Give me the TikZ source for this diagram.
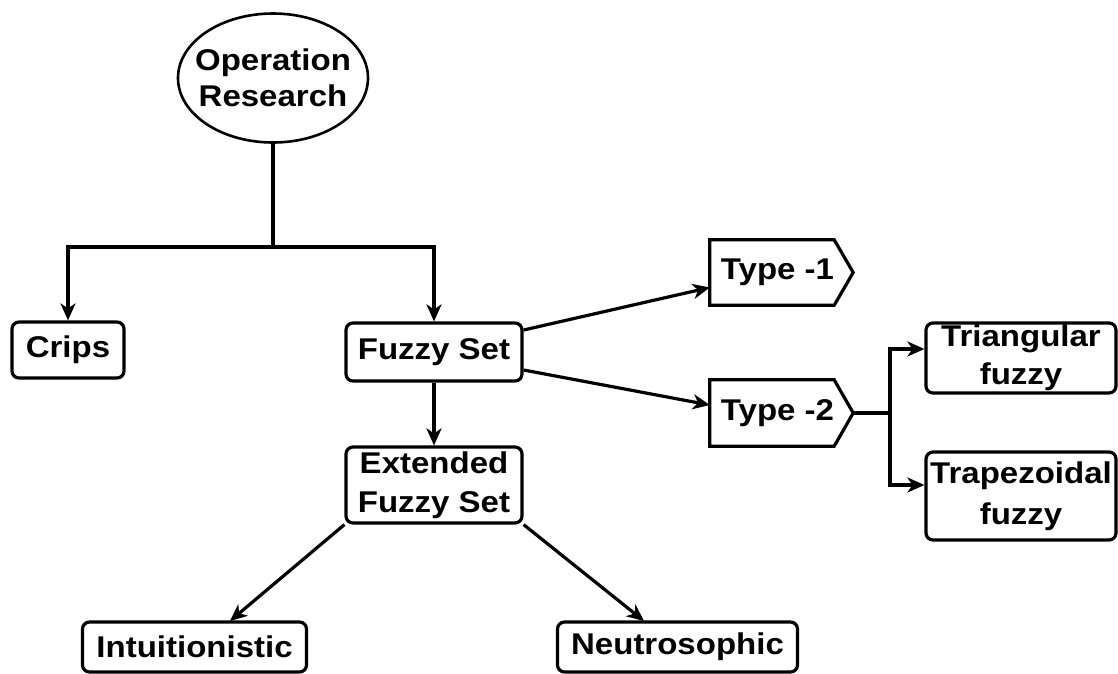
\documentclass[tikz,border=0pt]{standalone}
\usepackage{fontspec}
\setmainfont[FakeStretch=1.1]{Liberation Sans}
\usetikzlibrary{arrows.meta,shapes.geometric}
\begin{document}
\begin{tikzpicture}[x=1pt,y=-1pt,
  every node/.style={font=\bfseries\fontsize{30}{37}\selectfont, inner sep=0pt, align=center},
  box/.style={draw, line width=3.2pt, rounded corners=7pt},
  conn/.style={line width=3.2pt},
  arr/.style={line width=3.2pt, -{Stealth[length=17pt,width=15pt,inset=5pt]}},
]
\path[use as bounding box] (0,0) rectangle (1118,673);
\clip (0,0) rectangle (1118,673);
\fill[white] (0,0) rectangle (1118,673);
% nodes
\node[ellipse, draw, line width=2.6pt, inner xsep=-14pt, inner ysep=0pt, minimum width=190pt, minimum height=129pt] (or) at (273,78) {Operation\\[-1pt]Research};
\node[box, minimum width=112pt, minimum height=56pt] (cr) at (68,350) {Crips};
\node[box, minimum width=176pt, minimum height=58pt] (fz) at (434,352) {Fuzzy Set};
\node[box, minimum width=176pt, minimum height=76pt] (ex) at (434,485) {Extended\\[2pt]Fuzzy Set};
\node[minimum width=143pt, minimum height=65pt] (t1) at (781.5,272.5) {\hspace*{-8pt}Type -1};
\node[minimum width=143pt, minimum height=66pt] (t2) at (781.5,413) {\hspace*{-8pt}Type -2};
\draw[line width=3.2pt, line join=miter] (t1.north west) -- ([xshift=-19pt]t1.north east) -- (t1.east) -- ([xshift=-19pt]t1.south east) -- (t1.south west) -- cycle;
\draw[line width=3.2pt, line join=miter] (t2.north west) -- ([xshift=-19pt]t2.north east) -- (t2.east) -- ([xshift=-19pt]t2.south east) -- (t2.south west) -- cycle;
\node[box, minimum width=190pt, minimum height=70pt] (tri) at (1021,358) {Triangular\\[1pt]fuzzy};
\node[box, minimum width=190pt, minimum height=88pt] (trap) at (1021,496) {Trapezoidal\\[4pt]fuzzy};
\node[box, minimum width=224pt, minimum height=50pt] (in) at (194.5,647) {Intuitionistic};
\node[box, minimum width=240pt, minimum height=50pt] (ne) at (677.5,647) {Neutrosophic};
% connectors
\coordinate (j) at (273,247);
\draw[conn] (or.south) -- (j);
\draw[arr] (j) -| (cr.north);
\draw[arr] (j) -| (fz.north);
\draw[arr] (fz.south) -- (ex.north);
\draw[arr] ([yshift=22pt]fz.east) -- ([yshift=-15pt]t1.west);
\draw[arr] ([yshift=-18pt]fz.east) -- ([yshift=8pt]t2.west);
\coordinate (b) at (890,413);
\draw[conn] (t2.east) -- (b);
\draw[arr] (b) |- ([yshift=9pt]tri.west);
\draw[arr] (b) |- ([yshift=11pt]trap.west);
\coordinate (ti) at (230,621);
\coordinate (tn) at (644,621);
\draw[arr] (ex.south west) -- (ti);
\draw[arr] (ex.south east) -- (tn);
\end{tikzpicture}
\end{document}
